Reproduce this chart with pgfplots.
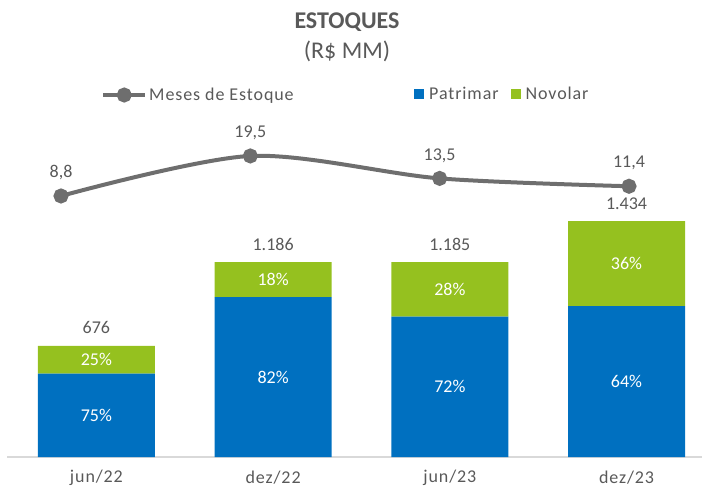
\documentclass[border=0pt]{standalone}
\usepackage{pgfplots}
\pgfplotsset{compat=1.18}
\usepackage{fontspec}
\setmainfont{Carlito}
\newfontfamily\spaced[LetterSpace=5]{Carlito}
\definecolor{pblue}{HTML}{0070C0}
\definecolor{ngreen}{HTML}{95C11F}
\definecolor{lgray}{HTML}{6E6E6E}
\definecolor{tgray}{HTML}{595959}
\definecolor{agray}{HTML}{D9D9D9}
\newcommand\lbl{\fontsize{18}{21}\selectfont}
\newcommand\spc{\spaced\fontsize{18}{21}\selectfont}
\pgfplotsset{
  common/.style={
    at={(7pt,31pt)}, anchor=south west, scale only axis,
    width=695pt, height=327pt,
  }
}
\begin{document}
\begin{tikzpicture}[x=1pt,y=1pt]
\path[use as bounding box] (0pt,0pt) rectangle (702pt,488pt);
\node[text=tgray, font=\fontsize{24}{28}\selectfont\bfseries] at (347pt,466pt) {ESTOQUES};
\node[text=tgray, font=\fontsize{24}{28}\selectfont] at (347pt,437pt) {(R\$ MM)};

% bars
\begin{axis}[common, name=bars,
  ybar stacked, bar width=117pt,
  xmin=-0.506, xmax=3.427, ymin=0, ymax=1989,
  axis x line*=bottom, axis y line=none,
  x axis line style={agray, line width=1.5pt, -},
  xtick={0,1,2,3}, xticklabels={jun/22,dez/22,jun/23,dez/23},
  major tick length=0pt,
  xticklabel style={font=\spc, text=tgray, anchor=center, inner sep=0pt, yshift=-21pt},
  legend columns=-1,
  legend image code/.code={\fill[#1,draw=none] (0pt,-5pt) rectangle (10pt,5pt);},
  legend style={at={(axis description cs:0.5856,1.110)}, anchor=west,
    draw=none, fill=none, inner sep=0pt, font=\spc, text=tgray,
    /tikz/every odd column/.append style={column sep=3pt},
    /tikz/every even column/.append style={column sep=10pt}},
]
\addplot[fill=pblue, draw=none] coordinates {(0,507) (1,972.5) (2,853.2) (3,917.8)};
\addplot[fill=ngreen, draw=none] coordinates {(0,169) (1,213.5) (2,331.8) (3,516.2)};
\legend{Patrimar, Novolar}
\end{axis}

% bar labels
\begin{axis}[common, name=labs,
  xmin=-0.506, xmax=3.427, ymin=0, ymax=1989,
  hide axis, clip=false,
]
\addplot[only marks, mark=none, nodes near coords={\pgfplotspointmeta\%},
  point meta=explicit symbolic,
  nodes near coords style={text=white, font=\lbl, anchor=center}]
  table[meta=label] {
x y label
0 253.5 75
1 486.25 82
2 426.6 72
3 458.9 64
0 591.5 25
1 1079.25 18
2 1019.1 28
3 1175.9 36
};
\addplot[only marks, mark=none, nodes near coords,
  point meta=explicit symbolic,
  nodes near coords style={text=tgray, font=\lbl, anchor=center, yshift=18pt}]
  table[meta=label] {
x y label
0 676 676
1 1186 1.186
2 1185 1.185
3 1434 1.434
};
\end{axis}

% line
\begin{axis}[common, name=line,
  xmin=-0.2852, xmax=3.3856, ymin=-60.99, ymax=26.44,
  hide axis, clip=false,
  legend image code/.code={\draw[lgray, line width=4pt] (0pt,0pt) -- (42pt,0pt);
     \fill[lgray] (21pt,0pt) circle (5.5pt);},
  legend style={at={(axis description cs:0.1353,1.107)}, anchor=west,
    draw=none, fill=none, inner sep=0pt, font=\spc, text=tgray},
]
\addplot[lgray, line width=4pt, smooth, mark=*, mark size=5.5pt,
  mark options={fill=lgray, draw=none},
  nodes near coords, point meta=explicit symbolic,
  nodes near coords style={text=tgray, font=\lbl, anchor=center, yshift=23pt}]
  table[meta=label] {
x y label
0 8.8 8,8
1 19.5 19,5
2 13.5 13,5
3 11.4 11,4
};
\legend{Meses de Estoque}
\end{axis}
\end{tikzpicture}
\end{document}
